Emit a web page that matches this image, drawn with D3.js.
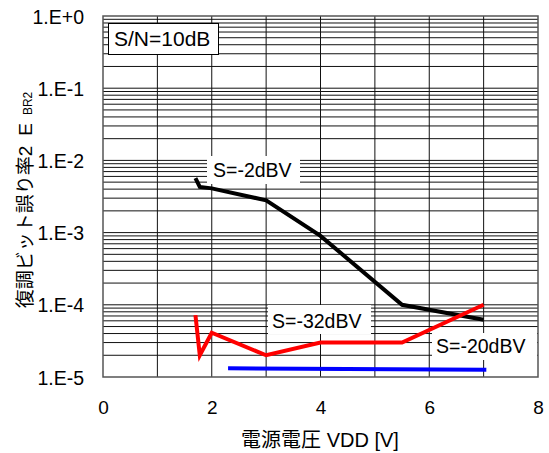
<!DOCTYPE html>
<html>
<head>
<meta charset="utf-8">
<script src="https://cdn.jsdelivr.net/npm/d3@7"></script>
<style>
  html, body { margin: 0; padding: 0; background: #fff; }
  svg { display: block; }
  text { font-family: "Liberation Sans", Arial, "Noto Sans CJK JP", sans-serif; fill: #000; }
</style>
</head>
<body>
<svg id="chart" width="549" height="453"></svg>
<script>
// Supply voltage VDD [V] and bit error rate for three signal levels (S/N = 10 dB)
const seriesNames = ["S=-2dBV", "S=-32dBV", "S=-20dBV"];
const seriesColors = ["#000000", "#ff0000", "#0000ff"];

const vddHigh = [1.7, 1.78, 2.0, 3.0, 4.0, 5.5, 7.0];
const berHigh = [5.7e-3, 4.3e-3, 4.1e-3, 2.8e-3, 9.0e-4, 1.0e-4, 6.2e-5];

const vddLow = [1.7, 1.78, 2.0, 3.0, 4.0, 5.5, 7.0];
const berLow = [7.2e-5, 2.0e-5, 4.1e-5, 2.0e-5, 3.0e-5, 3.0e-5, 1.0e-4];

const vddMid = [2.3, 7.05];
const berMid = [1.32e-5, 1.26e-5];

const xTickValues = [0, 2, 4, 6, 8];
const yTickValues = [1e-5, 1e-4, 1e-3, 1e-2, 1e-1, 1];
const yTickLabels = ["1.E-5", "1.E-4", "1.E-3", "1.E-2", "1.E-1", "1.E+0"];

const svg = d3.select("#chart");
const plotL = 103, plotR = 538, plotT = 16, plotB = 377;

const x = d3.scaleLinear().domain([0, 8]).range([plotL, plotR]);
const y = d3.scaleLog().domain([1e-5, 1]).range([plotB, plotT]);

// grid: every volt, and 1..9 within each decade
const gx = d3.range(1, 8);
const gy = [];
for (let e = -5; e < 0; e++) for (let k = 2; k <= 9; k++) gy.push(k * Math.pow(10, e));
yTickValues.slice(1, -1).forEach(v => gy.push(v));

const grid = svg.append("g").attr("stroke", "#111").attr("stroke-width", 1);
grid.selectAll("line.v").data(gx).join("line")
  .attr("x1", d => x(d)).attr("x2", d => x(d))
  .attr("y1", plotT).attr("y2", plotB);
grid.selectAll("line.h").data(gy).join("line")
  .attr("x1", plotL).attr("x2", plotR)
  .attr("y1", d => y(d)).attr("y2", d => y(d));

// frame
svg.append("rect")
  .attr("x", plotL).attr("y", plotT)
  .attr("width", plotR - plotL).attr("height", plotB - plotT)
  .attr("fill", "none").attr("stroke", "#555").attr("stroke-width", 1.5);

// axes (labels only)
const yAxis = svg.append("g").attr("transform", `translate(${plotL - 16},0)`)
  .call(d3.axisLeft(y).tickValues(yTickValues).tickSize(0)
        .tickFormat((d, i) => yTickLabels[i]));
yAxis.select(".domain").remove();
yAxis.selectAll("text").attr("font-size", 19.5).attr("dy", "0.36em")
  .attr("font-family", "'Liberation Sans', Arial, sans-serif");

const xAxis = svg.append("g").attr("transform", `translate(0,${plotB + 20})`)
  .call(d3.axisBottom(x).tickValues(xTickValues).tickSize(0).tickFormat(d3.format("d")));
xAxis.select(".domain").remove();
xAxis.selectAll("text").attr("font-size", 19).attr("dy", "0.71em")
  .attr("font-family", "'Liberation Sans', Arial, sans-serif");

// data lines
const line = d3.line().x(d => x(d[0])).y(d => y(d[1]));
const series = [
  d3.zip(vddHigh, berHigh),
  d3.zip(vddLow, berLow),
  d3.zip(vddMid, berMid)
];
svg.append("g").selectAll("path").data(series).join("path")
  .attr("d", line)
  .attr("fill", "none")
  .attr("stroke", (d, i) => seriesColors[i])
  .attr("stroke-width", 4)
  .attr("stroke-linejoin", "miter");

// series labels on white patches
const labels = [
  { text: seriesNames[0], bx: 207, by: 156, bw: 93, bh: 28, tx: 213, ty: 177 },
  { text: seriesNames[1], bx: 268, by: 305, bw: 103, bh: 29, tx: 272, ty: 328 },
  { text: seriesNames[2], bx: 432, by: 333, bw: 105, bh: 27, tx: 436, ty: 353 }
];
const lg = svg.append("g").selectAll("g").data(labels).join("g");
lg.append("rect")
  .attr("x", d => d.bx).attr("y", d => d.by)
  .attr("width", d => d.bw).attr("height", d => d.bh)
  .attr("fill", "#fff");
lg.append("text")
  .attr("x", d => d.tx).attr("y", d => d.ty)
  .attr("font-size", 19.5)
  .text(d => d.text);

// condition box
svg.append("rect")
  .attr("x", 108.5).attr("y", 23.5).attr("width", 110).attr("height", 31)
  .attr("fill", "#fff").attr("stroke", "#000").attr("stroke-width", 1);
svg.append("text").attr("x", 114).attr("y", 46)
  .attr("font-size", 21).text("S/N=10dB");

// axis titles
svg.append("text")
  .attr("x", 320).attr("y", 447)
  .attr("text-anchor", "middle")
  .attr("font-size", 20)
  .text("電源電圧 VDD [V]");

const yt = svg.append("text")
  .attr("transform", "translate(32,200) rotate(-90)")
  .attr("text-anchor", "middle")
  .attr("font-size", 19);
yt.append("tspan").text("復調ビット誤り率2");
yt.append("tspan").attr("dx", 10).text("E");
yt.append("tspan").attr("dx", 8).attr("font-size", 12).text("BR2");
</script>
</body>
</html>
